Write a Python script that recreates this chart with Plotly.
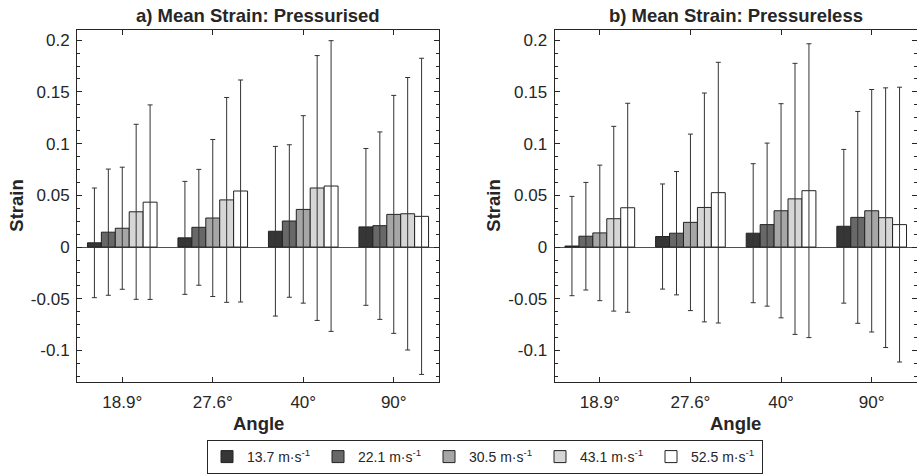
import plotly.graph_objects as go

# Wind speed series and test angles
speeds = ["13.7", "22.1", "30.5", "43.1", "52.5"]
angles = ["18.9°", "27.6°", "40°", "90°"]
bar_colors = ["#363636", "#686868", "#a6a6a6", "#d6d6d6", "#ffffff"]

# a) Pressurised: mean strain and standard deviation (rows = speed, cols = angle)
press_mean_137 = [0.0041, 0.0089, 0.0153, 0.0195]
press_mean_221 = [0.0144, 0.0191, 0.0252, 0.0207]
press_mean_305 = [0.0182, 0.0281, 0.0364, 0.0316]
press_mean_431 = [0.0341, 0.0456, 0.0571, 0.0322]
press_mean_525 = [0.0434, 0.0542, 0.0590, 0.0297]

press_std_137 = [0.0530, 0.0546, 0.0820, 0.0758]
press_std_221 = [0.0610, 0.0560, 0.0737, 0.0906]
press_std_305 = [0.0590, 0.0759, 0.0906, 0.1150]
press_std_431 = [0.0846, 0.0990, 0.1280, 0.1317]
press_std_525 = [0.0940, 0.1073, 0.1405, 0.1528]

# b) Pressureless: mean strain and standard deviation
pless_mean_137 = [0.0010, 0.0102, 0.0134, 0.0201]
pless_mean_221 = [0.0105, 0.0134, 0.0217, 0.0287]
pless_mean_305 = [0.0137, 0.0239, 0.0351, 0.0351]
pless_mean_431 = [0.0274, 0.0383, 0.0466, 0.0284]
pless_mean_525 = [0.0380, 0.0526, 0.0545, 0.0217]

pless_std_137 = [0.0480, 0.0508, 0.0672, 0.0743]
pless_std_221 = [0.0520, 0.0596, 0.0788, 0.1024]
pless_std_305 = [0.0655, 0.0853, 0.1035, 0.1172]
pless_std_431 = [0.0893, 0.1106, 0.1310, 0.1255]
pless_std_525 = [0.1010, 0.1260, 0.1420, 0.1328]

# y-axis ticks
y_tickvals = [-0.1, -0.05, 0, 0.05, 0.1, 0.15, 0.2]
y_ticktext = ["-0.1", "-0.05", "0", "0.05", "0.1", "0.15", "0.2"]

press_means = [press_mean_137, press_mean_221, press_mean_305, press_mean_431, press_mean_525]
press_stds = [press_std_137, press_std_221, press_std_305, press_std_431, press_std_525]
pless_means = [pless_mean_137, pless_mean_221, pless_mean_305, pless_mean_431, pless_mean_525]
pless_stds = [pless_std_137, pless_std_221, pless_std_305, pless_std_431, pless_std_525]

FONT = "Liberation Sans, Arial, sans-serif"
W, H = 917, 474

fig = go.Figure()

for panel, (means, stds) in enumerate([(press_means, press_stds), (pless_means, pless_stds)]):
    xa = "x" if panel == 0 else "x2"
    ya = "y" if panel == 0 else "y2"
    for i, spd in enumerate(speeds):
        fig.add_trace(go.Bar(
            x=angles, y=means[i], name=f"{spd} m·s<sup>-1</sup>",
            xaxis=xa, yaxis=ya, legendgroup=spd, showlegend=(panel == 0),
            marker=dict(color=bar_colors[i], line=dict(color="#222222", width=1)),
            error_y=dict(type="data", array=stds[i], symmetric=True,
                         color="#333333", thickness=1, width=2.5),
        ))

# axes box geometry (pixels)
left_x = (77, 439)
right_x = (554.5, 917)
top_y, bot_y = 30, 384
y_dom = [1 - bot_y / H, 1 - top_y / H]

axis_common = dict(
    showline=True, linecolor="#262626", linewidth=1, mirror="ticks",
    ticks="inside", ticklen=5, tickcolor="#262626", showgrid=False,
    tickfont=dict(family=FONT, size=17, color="#262626"),
)

xcommon = dict(axis_common, type="category", range=[-0.5, 3.5], zeroline=False,
               ticklabelstandoff=5)
ycommon = dict(axis_common, range=[-0.13, 0.21], tickvals=y_tickvals, ticktext=y_ticktext,
               zeroline=True, zerolinecolor="#505050", zerolinewidth=1,
               ticklabelstandoff=3,
               minor=dict(dtick=0.0125, tick0=0, ticks="inside", ticklen=3,
                          tickcolor="#262626", showgrid=False))

fig.update_layout(
    width=W, height=H,
    margin=dict(l=0, r=0, t=0, b=0),
    paper_bgcolor="white", plot_bgcolor="white",
    barmode="group", bargap=0.231, bargroupgap=0,
    font=dict(family=FONT, color="#262626"),
    xaxis=dict(xcommon, domain=[left_x[0] / W, left_x[1] / W], anchor="y"),
    yaxis=dict(ycommon, domain=y_dom, anchor="x"),
    xaxis2=dict(xcommon, domain=[right_x[0] / W, right_x[1] / W], anchor="y2"),
    yaxis2=dict(ycommon, domain=y_dom, anchor="x2"),
    legend=dict(
        orientation="h", x=485 / W, xanchor="center", y=1 - 443 / H, yanchor="top",
        bordercolor="#262626", borderwidth=1, bgcolor="white",
        font=dict(family=FONT, size=14, color="#262626"),
        entrywidth=66, itemwidth=30, tracegroupgap=0,
    ),
)

title_font = dict(family=FONT, size=18.5, color="#262626", weight="bold")
annots = []
for (x0, x1), title in [(left_x, "a) Mean Strain: Pressurised"), (right_x, "b) Mean Strain: Pressureless")]:
    cx = (x0 + x1) / 2 / W
    annots.append(dict(text=title, x=cx, y=1 - 16 / H, xref="paper", yref="paper",
                       xanchor="center", yanchor="middle", showarrow=False, font=title_font))
    annots.append(dict(text="Angle", x=cx, y=1 - 426 / H, xref="paper", yref="paper",
                       xanchor="center", yanchor="middle", showarrow=False, font=title_font))
for x_px in (17, 494):
    annots.append(dict(text="Strain", x=x_px / W, y=1 - 207 / H, xref="paper", yref="paper",
                       xanchor="center", yanchor="middle", textangle=-90, showarrow=False,
                       font=title_font))
fig.update_layout(annotations=annots)

fig.write_html("out.html")
